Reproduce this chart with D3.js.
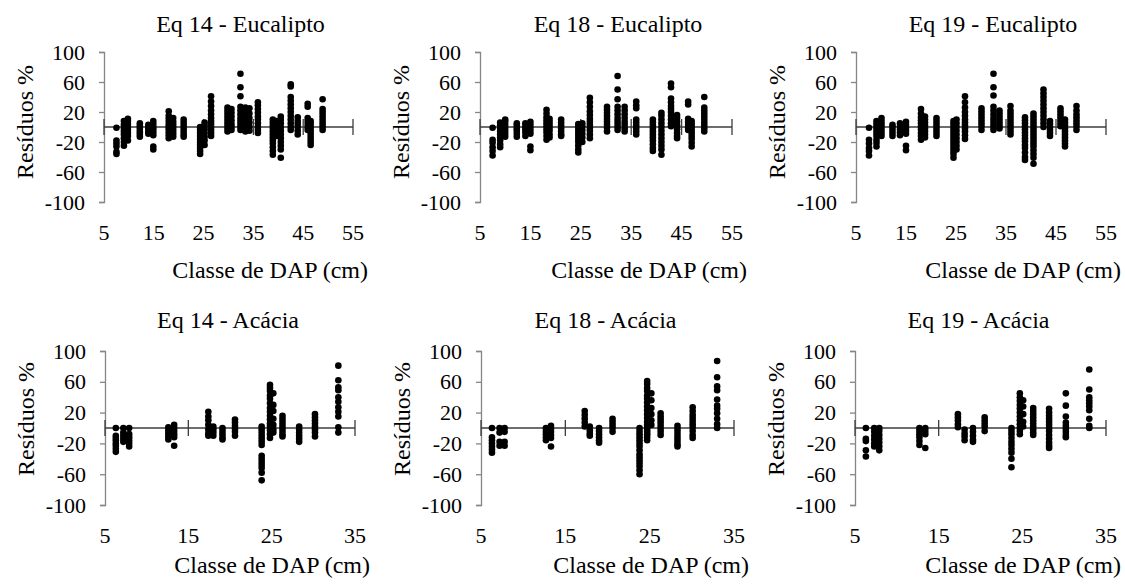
<!DOCTYPE html>
<html>
<head>
<meta charset="utf-8">
<script src="https://cdn.jsdelivr.net/npm/d3@7"></script>
</head>
<body style="margin:0">
<svg id="chart" width="1125" height="587" font-family="Liberation Serif"></svg>
<script>
// Panel titles, axis labels and ticks
const panelTitles = [
  "Eq 14 - Eucalipto", "Eq 18 - Eucalipto", "Eq 19 - Eucalipto",
  "Eq 14 - Acácia", "Eq 18 - Acácia", "Eq 19 - Acácia"
];
const yAxisLabel = "Resíduos %";
const xAxisLabel = "Classe de DAP (cm)";
const residualTicks = [-100, -60, -20, 20, 60, 100];
const dapTicksEucalipto = [5, 15, 25, 35, 45, 55];
const dapTicksAcacia = [5, 15, 25, 35];

// Residuals (%) per DAP class: [DAP (cm), residuals]
const eq14Eucalipto = [
  [7.5, [-1, -18, -22, -26, -33, -36]],
  [9.0, [8, 3, -2, -6, -10, -15, -20, -25]],
  [9.8, [11, 8, 4, 0, -4, -8, -12, -18]],
  [12.2, [5, 2, -1, -4, -7, -10, -13]],
  [13.9, [3, 0, -3, -6, -9]],
  [14.9, [8, 4, 0, -3, -7, -11, -26, -30]],
  [18.0, [21, 15, 11, 7, 3, 0, -3, -7, -11, -15]],
  [18.9, [12, 7, 3, -1, -5, -9, -13]],
  [21.0, [10, 6, 2, -2, -6, -10, -13]],
  [24.3, [0, -4, -8, -12, -16, -20, -24, -28, -32, -36]],
  [25.2, [6, 2, -3, -8, -13, -18, -24]],
  [26.5, [41, 34, 28, 22, 17, 12, 8, 4, 0, -4, -8, -12]],
  [29.8, [26, 22, 18, 14, 10, 6, 2, -2, -6]],
  [30.6, [24, 19, 14, 9, 4, 0, -4]],
  [32.4, [71, 53, 41, 27, 22, 17, 12, 8, 4, 0, -4]],
  [33.4, [26, 21, 16, 11, 6, 2, -2, -6]],
  [34.2, [25, 18, 12, 6, 0, -5]],
  [35.9, [33, 29, 24, 19, 14, 10, 5, 0, -4, -8]],
  [38.9, [10, 6, 2, -2, -6, -10, -14, -18, -22, -27, -32, -37]],
  [39.6, [8, 3, -2, -7, -12]],
  [40.5, [14, 10, 5, 0, -5, -10, -15, -20, -25, -30, -41]],
  [42.5, [57, 54, 40, 35, 30, 25, 20, 15, 10, 5, 0, -4]],
  [43.9, [13, 8, 4, 0, -5, -10]],
  [45.9, [31, 27, 12, 8, 4, 0, -4]],
  [46.5, [8, 4, 0, -4, -8, -12, -16, -20, -24]],
  [48.9, [37, 24, 20, 16, 12, 8, 4, 0, -4]]
];

const eq18Eucalipto = [
  [7.5, [-1, -17, -21, -27, -32, -38]],
  [9.0, [6, 2, -2, -6, -10, -14, -18, -23, -27]],
  [10.0, [10, 7, 3, -1, -5, -9, -13]],
  [12.3, [5, 2, -2, -5, -9, -13]],
  [14.0, [5, 1, -3, -7, -12]],
  [15.0, [7, 3, -1, -5, -9, -26, -31]],
  [18.2, [23, 18, 13, 9, 5, 1, -3, -7, -12, -17]],
  [18.8, [11, 7, 3, -1, -5, -10, -14]],
  [21.1, [10, 6, 2, -2, -6, -10, -12]],
  [24.5, [4, 0, -4, -8, -12, -16, -20, -25, -30, -34]],
  [25.3, [5, 1, -4, -9, -14, -20]],
  [26.8, [39, 33, 27, 21, 16, 11, 7, 3, -1, -5, -10, -15]],
  [30.2, [27, 23, 19, 15, 11, 7, 3, -1, -6]],
  [32.3, [68, 50, 37, 27, 22, 17, 12, 8, 4, 0, -4]],
  [33.7, [27, 22, 17, 12, 7, 3, -2, -6]],
  [36.0, [34, 29, 25, 10, 6, 2, -2, -6, -10]],
  [39.3, [10, 6, 2, -2, -6, -10, -14, -18, -23, -28, -32]],
  [41.0, [19, 15, 10, 5, 0, -5, -10, -15, -20, -25, -30, -37]],
  [42.9, [58, 53, 38, 33, 28, 24, 20, 15, 10, 5, 1]],
  [44.1, [16, 12, 7, 2, -3, -8, -12, -15]],
  [46.3, [34, 30, 11, 7, 3, -1, -4]],
  [47.0, [8, 4, 0, -4, -8, -12, -16, -21, -26]],
  [49.5, [40, 26, 22, 18, 14, 10, 6, 2, -2, -6]]
];

const eq19Eucalipto = [
  [7.6, [-1, -17, -22, -28, -32, -38]],
  [9.1, [8, 4, 0, -4, -8, -12, -17, -21, -26]],
  [10.1, [12, 8, 4, 0, -4, -8, -12]],
  [12.3, [3, 0, -4, -8, -12]],
  [13.8, [5, 1, -3, -7, -11]],
  [15.0, [7, 3, -1, -5, -9, -25, -31]],
  [18.0, [24, 18, 13, 9, 5, 1, -3, -8, -12, -17]],
  [18.8, [14, 10, 6, 2, -2, -6, -10, -14]],
  [21.1, [12, 8, 4, 0, -4, -8, -12]],
  [24.5, [8, 4, 0, -4, -8, -12, -16, -20, -24, -28, -32, -36, -41]],
  [25.1, [10, 5, 0, -5, -10, -15, -20, -25, -30]],
  [26.8, [41, 33, 26, 20, 15, 10, 6, 2, -2, -6, -11, -16]],
  [30.1, [25, 21, 17, 13, 9, 5, 1, -4]],
  [32.5, [71, 53, 42, 27, 22, 17, 12, 8, 4, 0, -4]],
  [33.7, [22, 18, 14, 10, 6, 2, -2]],
  [35.9, [28, 22, 18, 14, 10, 6, 2, -2, -6, -10]],
  [38.8, [13, 9, 5, 1, -3, -7, -11, -15, -19, -24, -28, -34, -40, -44]],
  [40.5, [18, 14, 10, 6, 2, -2, -6, -10, -14, -18, -22, -26, -31, -36, -41, -49]],
  [42.5, [50, 45, 40, 35, 30, 25, 20, 15, 10, 5, 0]],
  [43.8, [8, 4, 0, -4, -8, -12]],
  [45.9, [25, 21, 17, 13, 9, 5, 1]],
  [46.8, [10, 6, 2, -2, -6, -10, -14, -18, -22, -26]],
  [49.1, [28, 22, 17, 13, 9, 5, 1, -4]]
];

const eq14Acacia = [
  [6.3, [0, -10, -13, -16, -20, -23, -27, -31]],
  [7.2, [0, -6, -10, -14, -18]],
  [7.9, [0, -8, -12, -16, -20, -24]],
  [12.6, [1, -3, -7, -11, -15]],
  [13.3, [4, 0, -4, -8, -12, -23]],
  [17.4, [21, 15, 10, 4, -2, -7, -10]],
  [18.0, [2, -2, -6, -10]],
  [19.1, [0, -4, -8, -12, -15]],
  [20.6, [11, 7, 3, -1, -5, -10]],
  [23.8, [2, -2, -6, -10, -14, -18, -22, -36, -40, -44, -48, -52, -58, -68]],
  [24.8, [56, 52, 48, 42, 38, 32, 26, 21, 16, 11, 6, 2, -3, -8, -13]],
  [25.2, [45, 30, 22, 12, 4, -2, -6]],
  [26.3, [16, 12, 8, 4, 0, -4, -8, -11]],
  [28.3, [2, -2, -6, -10, -14, -18]],
  [30.2, [18, 14, 10, 6, 2, -2, -6, -11]],
  [33.0, [81, 62, 53, 49, 40, 34, 27, 21, 15, 1, -6]]
];

const eq18Acacia = [
  [6.3, [0, -12, -16, -20, -24, -28, -32]],
  [7.2, [0, -6, -18, -23]],
  [7.8, [0, -5, -18, -23]],
  [12.7, [0, -4, -8, -12, -16]],
  [13.3, [3, -1, -5, -9, -13, -24]],
  [17.3, [22, 17, 12, 7, 2]],
  [17.9, [2, -3, -7, -10]],
  [19.0, [0, -4, -8, -12, -16, -19]],
  [20.6, [12, 8, 4, 0, -5]],
  [23.8, [0, -4, -8, -12, -16, -20, -24, -29, -34, -38, -42, -46, -50, -55, -60]],
  [24.7, [61, 57, 52, 48, 42, 38, 33, 28, 23, 18, 13, 8, 4, 0, -4, -8, -12, -16]],
  [25.2, [45, 36, 26, 18, 10, 4]],
  [26.3, [19, 15, 11, 7, 3, -1, -5, -9]],
  [28.3, [3, -1, -5, -9, -13, -17, -21, -24]],
  [30.1, [27, 22, 17, 13, 9, 5, 1, -4, -9, -13]],
  [33.0, [87, 66, 54, 49, 37, 29, 25, 19, 12, 5, 0]]
];

const eq19Acacia = [
  [6.3, [0, -14, -17, -29, -37]],
  [7.3, [0, -5, -10, -15, -20, -24]],
  [7.9, [0, -4, -9, -14, -19, -24, -29]],
  [12.7, [0, -4, -8, -12, -17, -22]],
  [13.4, [0, -4, -8, -26]],
  [17.3, [18, 14, 10, 5, 1]],
  [18.1, [-2, -7, -11, -16]],
  [19.1, [0, -5, -10, -15, -18]],
  [20.5, [14, 10, 6, 2, -4]],
  [23.7, [0, -4, -8, -13, -18, -22, -27, -32, -40, -51]],
  [24.7, [45, 40, 35, 30, 25, 20, 15, 10, 5, 0, -4, -8]],
  [25.1, [36, 28, 18, 8, 2]],
  [26.3, [26, 22, 18, 14, 10, 6, 2, -2, -6, -9]],
  [28.2, [25, 20, 16, 12, 8, 4, 0, -4, -9, -14, -19, -23, -26]],
  [30.2, [45, 29, 15, 7, 3, -1, -5, -9, -12]],
  [33.0, [76, 50, 40, 36, 32, 28, 23, 12, 3, 0]]
];

// Layout of the 2 x 3 grid
const FONT = "Liberation Serif";
const rows = [
  { top: 52, bottom: 202, titleY: 32, tickY: 240, labelY: 278, yLabelY: 122, titleDx: 12 },
  { top: 351, bottom: 505, titleY: 328, tickY: 543, labelY: 573, yLabelY: 419, titleDx: -2 }
];
const cols = [
  [{ left: 104, right: 353 }, { left: 480, right: 732 }, { left: 856, right: 1106 }],
  [{ left: 105, right: 355 }, { left: 481, right: 734 }, { left: 855, right: 1106 }]
];

const panels = [
  { title: panelTitles[0], data: eq14Eucalipto, ticks: dapTicksEucalipto, row: 0, col: 0 },
  { title: panelTitles[1], data: eq18Eucalipto, ticks: dapTicksEucalipto, row: 0, col: 1 },
  { title: panelTitles[2], data: eq19Eucalipto, ticks: dapTicksEucalipto, row: 0, col: 2 },
  { title: panelTitles[3], data: eq14Acacia, ticks: dapTicksAcacia, row: 1, col: 0 },
  { title: panelTitles[4], data: eq18Acacia, ticks: dapTicksAcacia, row: 1, col: 1 },
  { title: panelTitles[5], data: eq19Acacia, ticks: dapTicksAcacia, row: 1, col: 2 }
];

const svg = d3.select("#chart");
svg.append("rect").attr("width", 1125).attr("height", 587).attr("fill", "#fff");

function label(sel, size) {
  return sel.attr("font-family", FONT).attr("font-size", size).attr("fill", "#000");
}

panels.forEach(p => {
  const r = rows[p.row];
  const c = cols[p.row][p.col];
  const x = d3.scaleLinear().domain(d3.extent(p.ticks)).range([c.left, c.right]);
  const y = d3.scaleLinear().domain([-100, 100]).range([r.bottom, r.top]);
  const g = svg.append("g").attr("font-family", FONT);

  // vertical axis
  const ya = g.append("g")
    .attr("transform", `translate(${c.left},0)`)
    .call(d3.axisLeft(y).tickValues(residualTicks).tickSize(5).tickSizeOuter(5)
      .tickPadding(14).tickFormat(d => String(d)));
  ya.attr("font-family", FONT).attr("font-size", 22);
  ya.select(".domain").attr("stroke", "#868686").attr("stroke-width", 1.3);
  ya.selectAll(".tick line").attr("stroke", "#868686").attr("stroke-width", 1.3);
  label(ya.selectAll(".tick text"), 22);

  // zero line with cross ticks
  const y0 = y(0);
  g.append("line")
    .attr("x1", x(p.ticks[0])).attr("x2", x(p.ticks[p.ticks.length - 1]))
    .attr("y1", y0).attr("y2", y0)
    .attr("stroke", "#3c3c3c").attr("stroke-width", 1.3);
  g.selectAll(".xtick").data(p.ticks).join("line")
    .attr("x1", d => x(d)).attr("x2", d => x(d))
    .attr("y1", y0 - 8).attr("y2", y0 + 8)
    .attr("stroke", "#3c3c3c").attr("stroke-width", 1.3);

  // DAP tick labels below the plot
  label(g.selectAll(".xlab").data(p.ticks).join("text"), 22)
    .attr("x", d => x(d)).attr("y", r.tickY)
    .attr("text-anchor", "middle")
    .text(d => d);

  // points
  const pts = p.data.flatMap(([dap, res]) => res.map(v => ({ dap, v })));
  g.append("g").selectAll("circle").data(pts).join("circle")
    .attr("cx", d => x(d.dap)).attr("cy", d => y(d.v))
    .attr("r", 3.3).attr("fill", "#000");

  // titles and axis labels
  label(g.append("text"), 24)
    .attr("x", (c.left + c.right) / 2 + r.titleDx).attr("y", r.titleY)
    .attr("text-anchor", "middle")
    .text(p.title);
  label(g.append("text"), 24)
    .attr("x", c.right + 15).attr("y", r.labelY)
    .attr("text-anchor", "end")
    .text(xAxisLabel);
  label(g.append("text"), 24)
    .attr("transform", `translate(${c.left - 71},${r.yLabelY}) rotate(-90)`)
    .attr("text-anchor", "middle")
    .text(yAxisLabel);
});
</script>
</body>
</html>
